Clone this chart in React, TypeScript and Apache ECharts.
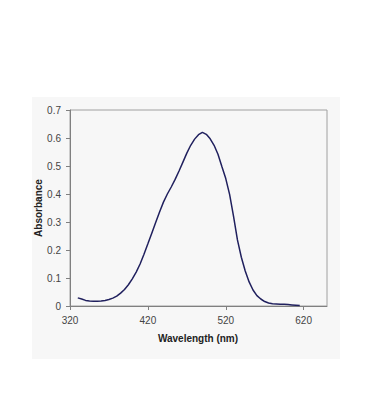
import React, { useEffect, useRef } from "react";
import * as echarts from "echarts";

const wavelengths = [
  330, 335, 340, 345, 350, 355, 360, 365, 370, 375, 380, 385, 390, 395, 400, 405, 410, 415,
  420, 425, 430, 435, 440, 445, 450, 455, 460, 465, 470, 475, 480, 485, 490, 495, 500, 505,
  510, 515, 520, 525, 530, 535, 540, 545, 550, 555, 560, 565, 570, 575, 580, 585, 590, 595,
  600, 605, 610, 615,
];
const absorbance = [
  0.029, 0.025, 0.02, 0.018, 0.017, 0.017, 0.018, 0.02, 0.023, 0.028, 0.035, 0.046, 0.059,
  0.076, 0.097, 0.121, 0.15, 0.185, 0.222, 0.26, 0.298, 0.336, 0.371, 0.4, 0.425, 0.452,
  0.482, 0.514, 0.546, 0.574, 0.596, 0.612, 0.62, 0.613, 0.597, 0.574, 0.542, 0.498, 0.455,
  0.398, 0.32, 0.236, 0.174, 0.125, 0.086, 0.057, 0.037, 0.025, 0.016, 0.011, 0.008, 0.007,
  0.006, 0.006, 0.005, 0.004, 0.003, 0.002,
];
const xTickValues = [320, 420, 520, 620];
const xName = "Wavelength (nm)";
const yName = "Absorbance";

export default function App() {
  const ref = useRef<HTMLDivElement>(null);
  useEffect(() => {
    if (!ref.current) return;
    const chart = echarts.init(ref.current, null, { renderer: "svg" });
    const font = "Liberation Sans, Arial, sans-serif";
    chart.setOption({
      animation: false,
      graphic: [
        {
          type: "rect",
          z: -10,
          shape: { x: 32, y: 97, width: 308, height: 262 },
          style: { fill: "#f7f7f7" },
          silent: true,
        },
        {
          type: "text",
          x: 198,
          y: 338,
          style: {
            text: xName,
            fill: "#222",
            font: `bold 10px ${font}`,
            textAlign: "center",
            textVerticalAlign: "middle",
          },
        },
        {
          type: "text",
          x: 38,
          y: 208,
          rotation: Math.PI / 2,
          style: {
            text: yName,
            fill: "#222",
            font: `bold 10px ${font}`,
            textAlign: "center",
            textVerticalAlign: "middle",
          },
        },
      ],
      grid: {
        left: 70,
        top: 110,
        right: 43,
        bottom: 114,
        show: true,
        borderColor: "#a0a0a0",
        borderWidth: 1,
        backgroundColor: "transparent",
      },
      xAxis: {
        type: "value",
        min: 320,
        max: 650,
        axisLine: { show: true, onZero: false, lineStyle: { color: "#808080", width: 1 } },
        axisTick: {
          show: true,
          length: 4,
          customValues: xTickValues,
          lineStyle: { color: "#808080" },
        },
        axisLabel: {
          customValues: xTickValues,
          margin: 9,
          color: "#444",
          fontSize: 10,
          fontFamily: font,
        },
        splitLine: { show: false },
      },
      yAxis: {
        type: "value",
        min: 0,
        max: 0.7,
        interval: 0.1,
        axisLine: { show: true, lineStyle: { color: "#808080", width: 1 } },
        axisTick: { show: true, length: 4, lineStyle: { color: "#808080" } },
        axisLabel: {
          margin: 9,
          color: "#444",
          fontSize: 10,
          fontFamily: font,
          formatter: (v: number) => String(Math.round(v * 10) / 10),
        },
        splitLine: { show: false },
      },
      series: [
        {
          type: "line",
          data: wavelengths.map((w, i) => [w, absorbance[i]]),
          showSymbol: false,
          lineStyle: { color: "#20205e", width: 1.5 },
          itemStyle: { color: "#20205e" },
        },
      ],
    });
    return () => chart.dispose();
  }, []);
  return (
    <div
      ref={ref}
      style={{ position: "fixed", left: 0, top: 0, width: 370, height: 420, background: "#fff" }}
    />
  );
}
